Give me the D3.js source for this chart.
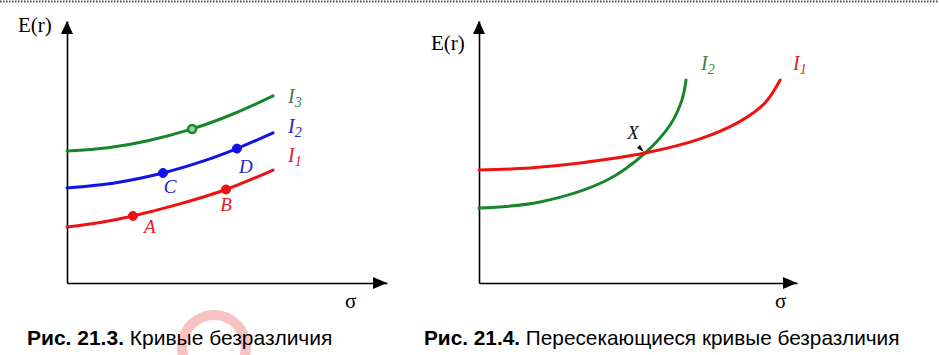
<!DOCTYPE html>
<html><head><meta charset="utf-8">
<script src="https://cdn.jsdelivr.net/npm/d3@7"></script>
<style>
html,body{margin:0;padding:0;background:#fff;}
svg{display:block;}
.serif{font-family:"Liberation Serif","Times New Roman",serif;}
.sans{font-family:"Liberation Sans",Arial,sans-serif;}
</style></head>
<body>
<svg id="c" width="939" height="355"></svg>
<script>
// ---- data (σ, E(r)) in arbitrary units 0..100 ----
const leftI1 = [[0,21.4],[10.3,23.1],[20.6,25.6],[34.7,30.0],[49.7,35.7],[64.4,43.1]];
const leftI2 = [[0,36.3],[15.3,38.3],[30,42.0],[42.5,46.5],[53.1,51.3],[64.4,57.3]];
const leftI3 = [[0,50.4],[12.8,51.6],[25.3,54.3],[39.1,58.8],[51.9,64.5],[64.4,71.4]];
const leftPoints = [
  {name:"A", x:20.6, y:25.6, curve:"I1"},
  {name:"B", x:49.7, y:35.7, curve:"I1"},
  {name:"C", x:30.0, y:42.0, curve:"I2"},
  {name:"D", x:53.1, y:51.3, curve:"I2"},
  {name:"", x:39.1, y:58.8, curve:"I3"}
];
const rightI1 = [[0,43.1],[16,43.9],[31.8,45.8],[52.2,49.6],[69.5,55.0],[82.1,61.7],[89.9,68.7],[94.7,77.5]];
const rightI2 = [[0,28.6],[19.2,30.9],[40.3,39.3],[52.2,49.6],[60.1,60.3],[63.8,69.8],[65.1,77.5]];
const rightCross = {name:"X", x:52.2, y:49.6};
const captions = [
  {bold:"Рис. 21.3.", rest:" Кривые безразличия"},
  {bold:"Рис. 21.4.", rest:" Пересекающиеся кривые безразличия"}
];
const axisLabels = {y:"E(r)", x:"σ"};

const svg = d3.select("#c");
const RED="#ee1111", BLUE="#1111ee", GREEN="#17862a";
const colors = {I1:RED, I2:BLUE, I3:GREEN};
const labelColors = {I1:"#e01b2b", I2:"#2222cc", I3:"#3d7f3d"};

// dotted top rule
svg.append("line").attr("x1",0).attr("x2",939).attr("y1",1.5).attr("y2",1.5)
  .attr("stroke","#444").attr("stroke-width",2).attr("stroke-dasharray","1.5,1.5");

// watermark arc
svg.append("path")
  .attr("d", d3.arc()({innerRadius:27, outerRadius:37, startAngle:-Math.PI*0.85, endAngle:Math.PI*0.62}))
  .attr("transform","translate(214,347)")
  .attr("fill","#f5a8a8").attr("opacity",0.7);

function panel(x0, x1, yTop, yBase) {
  const x = d3.scaleLinear().domain([0,100]).range([x0, x1]);
  const y = d3.scaleLinear().domain([0,100]).range([yBase, yTop]);
  const g = svg.append("g");
  g.append("g").attr("transform",`translate(0,${yBase})`)
    .call(d3.axisBottom(x).tickValues([]).tickSizeOuter(0))
    .select(".domain").attr("stroke","#000").attr("stroke-width",1.6);
  g.append("g").attr("transform",`translate(${x0},0)`)
    .call(d3.axisLeft(y).tickValues([]).tickSizeOuter(0))
    .select(".domain").attr("stroke","#000").attr("stroke-width",1.6);
  const tx = x(100), ty = y(100);
  g.append("path").attr("d",`M${tx},${yBase} L${tx-14},${yBase-6} L${tx-14},${yBase+6} Z`).attr("fill","#000");
  g.append("path").attr("d",`M${x0},${ty} L${x0-6},${ty+13} L${x0+6},${ty+13} Z`).attr("fill","#000");
  return {x, y, g};
}

const line = (p) => d3.line().x(d=>p.x(d[0])).y(d=>p.y(d[1])).curve(d3.curveCatmullRom.alpha(0.5));

// ---- left panel ----
const L = panel(67, 387, 21, 283);
[["I1",leftI1],["I2",leftI2],["I3",leftI3]].forEach(([k,data])=>{
  L.g.append("path").datum(data).attr("d",line(L)).attr("fill","none")
    .attr("stroke",colors[k]).attr("stroke-width",3).attr("stroke-linecap","round");
});
leftPoints.forEach(p=>{
  const hollow = p.name==="";
  L.g.append("circle").attr("cx",L.x(p.x)).attr("cy",L.y(p.y)).attr("r",hollow?4:4.5)
    .attr("fill",hollow?"#9fd09f":colors[p.curve]).attr("stroke",colors[p.curve]).attr("stroke-width",hollow?2.5:1);
});
const ptOff = {A:[17,17], B:[0,22], C:[7,20], D:[9,24]};
leftPoints.filter(p=>p.name).forEach(p=>{
  L.g.append("text").attr("class","serif").attr("font-style","italic").attr("font-size",19)
    .attr("x",L.x(p.x)+ptOff[p.name][0]).attr("y",L.y(p.y)+ptOff[p.name][1]).attr("text-anchor","middle")
    .attr("fill",p.curve==="I1"?labelColors.I1:labelColors.I2).text(p.name);
});
function iLabel(g, px, py, color, sub) {
  const t = g.append("text").attr("class","serif").attr("font-style","italic").attr("font-size",20)
    .attr("x",px).attr("y",py).attr("fill",color);
  t.append("tspan").text("I");
  t.append("tspan").attr("font-size",14).attr("dy",4).text(sub);
}
iLabel(L.g, 288, 103, labelColors.I3, "3");
iLabel(L.g, 288, 133, labelColors.I2, "2");
iLabel(L.g, 288, 162, labelColors.I1, "1");

// ---- right panel ----
const R = panel(479, 797, 21, 283);
[[rightI2,GREEN],[rightI1,RED]].forEach(([data,c])=>{
  R.g.append("path").datum(data).attr("d",line(R)).attr("fill","none")
    .attr("stroke",c).attr("stroke-width",3).attr("stroke-linecap","round");
});
const cx = R.x(rightCross.x), cy = R.y(rightCross.y);
R.g.append("path").attr("d",`M${cx-1},${cy-1} L${cx-8},${cy-5} L${cx-5},${cy-8} Z`).attr("fill","#000");
R.g.append("text").attr("class","serif").attr("font-style","italic").attr("font-size",19)
  .attr("x",cx-12).attr("y",cy-14).attr("text-anchor","middle").attr("fill","#111").text(rightCross.name);
iLabel(R.g, 701, 70, labelColors.I3, "2");
iLabel(R.g, 793, 70, labelColors.I1, "1");

// axis labels
[[18,32],[431,50]].forEach(([px,py])=>{
  svg.append("text").attr("class","serif").attr("font-size",21).attr("x",px).attr("y",py).attr("fill","#000").text(axisLabels.y);
});
[[345,308],[775,308]].forEach(([px,py])=>{
  svg.append("text").attr("class","serif").attr("font-size",21).attr("x",px).attr("y",py).attr("fill","#000").text(axisLabels.x);
});

// captions
[[27,345,21],[424,345,20.8]].forEach(([px,py,fs],i)=>{
  const t = svg.append("text").attr("class","sans").attr("font-size",fs).attr("x",px).attr("y",py).attr("fill","#000");
  t.append("tspan").attr("font-weight","bold").text(captions[i].bold);
  t.append("tspan").text(captions[i].rest);
});
</script>
</body></html>
